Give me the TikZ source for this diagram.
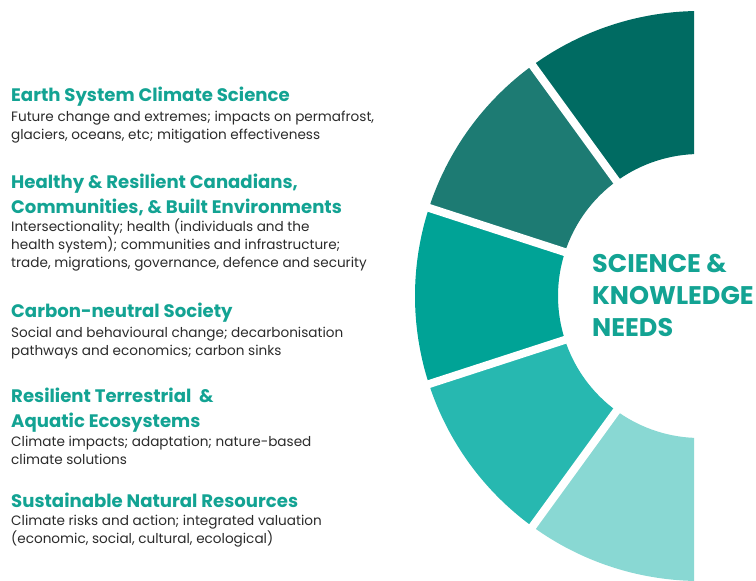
\documentclass[tikz,border=0pt]{standalone}
\usepackage{fontspec}
\setmainfont{Poppins}
\definecolor{segA}{HTML}{006B62}
\definecolor{segB}{HTML}{1D7B73}
\definecolor{segC}{HTML}{00A396}
\definecolor{segD}{HTML}{27B8B0}
\definecolor{segE}{HTML}{89D8D3}
\definecolor{headc}{HTML}{13A393}
\definecolor{bodyc}{HTML}{2B2B2B}
\tikzset{
  head/.style={anchor=base west, inner sep=0pt, align=left, text=headc,
    font=\fontsize{18.1}{25}\selectfont\bfseries},
  body/.style={anchor=base west, inner sep=0pt, align=left, text=bodyc,
    font=\fontsize{13.6}{18.2}\selectfont},
  center/.style={anchor=base west, inner sep=0pt, align=left, text=headc,
    font=\fontsize{25.5}{32}\selectfont\bfseries},
  gap/.style={white, line width=8pt}
}
\begin{document}
\begin{tikzpicture}[x=1pt,y=1pt]
\useasboundingbox (0,0) rectangle (756,581);
% ring segments
\begin{scope}
\clip (0,0) rectangle (694,581);
\begin{scope}[shift={(700,285)}]
\fill[segA] (90:285) arc[start angle=90,end angle=126,radius=285] -- (126:142) arc[start angle=126,end angle=90,radius=142] -- cycle;
\fill[segB] (126:285) arc[start angle=126,end angle=162,radius=285] -- (162:142) arc[start angle=162,end angle=126,radius=142] -- cycle;
\fill[segC] (162:285) arc[start angle=162,end angle=198,radius=285] -- (198:142) arc[start angle=198,end angle=162,radius=142] -- cycle;
\fill[segD] (198:285) arc[start angle=198,end angle=234,radius=285] -- (234:142) arc[start angle=234,end angle=198,radius=142] -- cycle;
\fill[segE] (234:285) arc[start angle=234,end angle=270,radius=285] -- (270:142) arc[start angle=270,end angle=234,radius=142] -- cycle;
\foreach \a in {126,162,198,234} \draw[gap] (\a:130) -- (\a:300);
\end{scope}
\end{scope}
% centre label (base anchor = last line)
\node[center] (needs) at (592,244) {SCIENCE \&\\KNOWLEDGE\\NEEDS};
% left labels
\node[head] (h1) at (11,479) {Earth System Climate Science};
\node[body] (b1) at (11,441.5) {Future change and extremes; impacts on permafrost,\\glaciers, oceans, etc; mitigation effectiveness};
\node[head] (h2) at (11,367) {Healthy \& Resilient Canadians,\\Communities, \& Built Environments};
\node[body] (b2) at (11,313) {Intersectionality; health (individuals and the\\health system); communities and infrastructure;\\trade, migrations, governance, defence and security};
\node[head] (h3) at (11,263) {Carbon-neutral Society};
\node[body] (b3) at (11,225) {Social and behavioural change; decarbonisation\\pathways and economics; carbon sinks};
\node[head] (h4) at (11,153) {Resilient Terrestrial\ \ \&\\Aquatic Ecosystems};
\node[body] (b4) at (11,116) {Climate impacts; adaptation; nature-based\\climate solutions};
\node[head] (h5) at (11,73) {Sustainable Natural Resources};
\node[body] (b5) at (11,37) {Climate risks and action; integrated valuation\\(economic, social, cultural, ecological)};
\end{tikzpicture}
\end{document}
